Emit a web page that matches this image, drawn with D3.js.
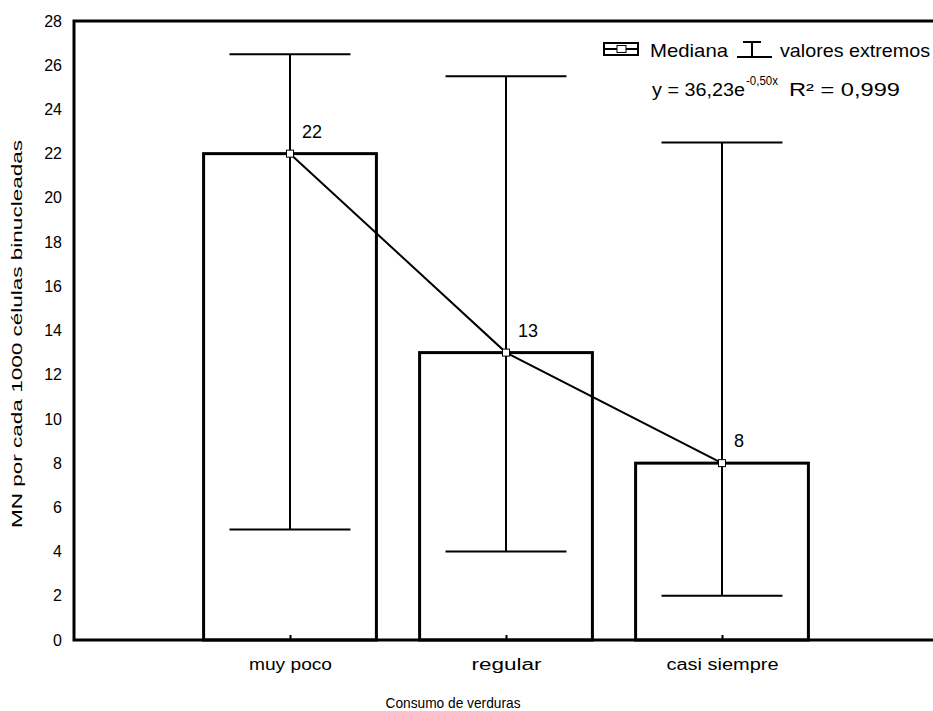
<!DOCTYPE html>
<html><head><meta charset="utf-8">
<script src="https://cdn.jsdelivr.net/npm/d3@7"></script>
<style>body{margin:0;background:#fff;} svg{display:block;font-family:"Liberation Sans",Arial,sans-serif;}</style>
</head><body>
<svg id="c" width="933" height="711"></svg>
<script>
const categories = ["muy poco", "regular", "casi siempre"];
const medians = [22, 13, 8];
const minimums = [5, 4, 2];
const maximums = [26.5, 25.5, 22.5];
const yTicks = [0,2,4,6,8,10,12,14,16,18,20,22,24,26,28];

const svg = d3.select("#c");
const L = 74, R = 938, T = 21, B = 640;
const x = d3.scaleLinear().domain([0, 4]).range([L, R]);
const y = d3.scaleLinear().domain([0, 28]).range([B, T]);
const step = x(1) - x(0);
const barW = step * 0.8, capW = step * 0.56;

// frame
svg.append("rect").attr("x", L).attr("y", T).attr("width", R - L).attr("height", B - T)
  .attr("fill", "none").attr("stroke", "#000").attr("stroke-width", 3);

// y tick labels
const yAxis = d3.axisLeft(y).tickValues(yTicks).tickSize(0).tickPadding(12);
const gy = svg.append("g").attr("transform", `translate(${L},0)`).call(yAxis);
gy.select(".domain").remove();
gy.selectAll("text").attr("font-size", 16).attr("font-family", "Liberation Sans, Arial, sans-serif").attr("fill", "#000");

// x axis ticks & labels
const xLabW = [83, 70, 112];
const gx = svg.append("g").attr("transform", `translate(0,${B})`)
  .call(d3.axisBottom(x).tickValues([1,2,3]).tickFormat(d => categories[d-1]).tickSize(-5).tickPadding(19));
gx.select(".domain").remove();
gx.selectAll("line").attr("stroke-width", 2);
gx.selectAll("text").attr("font-size", 16).attr("font-family", "Liberation Sans, Arial, sans-serif").attr("fill", "#000")
  .attr("textLength", d => xLabW[d-1]).attr("lengthAdjust", "spacingAndGlyphs");

// bars
const idx = categories.map((c, i) => i);
svg.selectAll("rect.bar").data(idx).join("rect").attr("class", "bar")
  .attr("x", i => x(i + 1) - barW / 2).attr("width", barW)
  .attr("y", i => y(medians[i])).attr("height", i => y(0) - y(medians[i]))
  .attr("fill", "none").attr("stroke", "#000").attr("stroke-width", 3);

// whiskers
const wg = svg.append("g").attr("stroke", "#000").attr("stroke-width", 2);
idx.forEach(i => {
  const cx = x(i + 1);
  wg.append("line").attr("x1", cx).attr("x2", cx).attr("y1", y(minimums[i])).attr("y2", y(maximums[i]));
  wg.append("line").attr("x1", cx - capW/2).attr("x2", cx + capW/2).attr("y1", y(minimums[i])).attr("y2", y(minimums[i]));
  wg.append("line").attr("x1", cx - capW/2).attr("x2", cx + capW/2).attr("y1", y(maximums[i])).attr("y2", y(maximums[i]));
});

// median line
svg.append("path").datum(idx)
  .attr("d", d3.line().x(i => x(i + 1)).y(i => y(medians[i])))
  .attr("fill", "none").attr("stroke", "#000").attr("stroke-width", 2);
svg.selectAll("rect.med").data(idx).join("rect").attr("class", "med")
  .attr("x", i => x(i + 1) - 3.5).attr("y", i => y(medians[i]) - 3.5)
  .attr("width", 7).attr("height", 7).attr("fill", "#fff").attr("stroke", "#000").attr("stroke-width", 1);
svg.selectAll("text.lab").data(idx).join("text").attr("class", "lab")
  .attr("x", i => x(i + 1) + 12).attr("y", i => y(medians[i]) - 16)
  .attr("font-size", 18).text(i => medians[i]);

// axis titles
svg.append("text").attr("x", 453).attr("y", 708).attr("text-anchor", "middle").attr("font-size", 15)
  .attr("textLength", 135).attr("lengthAdjust", "spacingAndGlyphs").text("Consumo de verduras");
svg.append("text").attr("transform", "translate(22,334) rotate(-90)").attr("text-anchor", "middle").attr("font-size", 15)
  .attr("textLength", 388).attr("lengthAdjust", "spacingAndGlyphs")
  .text("MN por cada 1000 células binucleadas");

// legend
const lg = svg.append("g");
lg.append("rect").attr("x", 604).attr("y", 43).attr("width", 34).attr("height", 12).attr("fill", "none").attr("stroke", "#000").attr("stroke-width", 2);
lg.append("line").attr("x1", 604).attr("x2", 638).attr("y1", 49).attr("y2", 49).attr("stroke", "#000").attr("stroke-width", 2);
lg.append("rect").attr("x", 617).attr("y", 45.5).attr("width", 9).attr("height", 7).attr("fill", "#fff").attr("stroke", "#000").attr("stroke-width", 1);
lg.append("text").attr("x", 650).attr("y", 57).attr("font-size", 19)
  .attr("textLength", 78).attr("lengthAdjust", "spacingAndGlyphs").text("Mediana");
lg.append("line").attr("x1", 743).attr("x2", 761).attr("y1", 42).attr("y2", 42).attr("stroke", "#000").attr("stroke-width", 2);
lg.append("line").attr("x1", 752).attr("x2", 752).attr("y1", 42).attr("y2", 57).attr("stroke", "#000").attr("stroke-width", 2);
lg.append("line").attr("x1", 737).attr("x2", 772).attr("y1", 57).attr("y2", 57).attr("stroke", "#000").attr("stroke-width", 2);
lg.append("text").attr("x", 780).attr("y", 57).attr("font-size", 19)
  .attr("textLength", 150).attr("lengthAdjust", "spacingAndGlyphs").text("valores extremos");
lg.append("text").attr("x", 652).attr("y", 96).attr("font-size", 18)
  .attr("textLength", 93).attr("lengthAdjust", "spacingAndGlyphs").text("y = 36,23e");
lg.append("text").attr("x", 746).attr("y", 85).attr("font-size", 13)
  .attr("textLength", 32).attr("lengthAdjust", "spacingAndGlyphs").text("-0,50x");
lg.append("text").attr("x", 789).attr("y", 96).attr("font-size", 18)
  .attr("textLength", 111).attr("lengthAdjust", "spacingAndGlyphs").text("R² = 0,999");
</script>
</body></html>
